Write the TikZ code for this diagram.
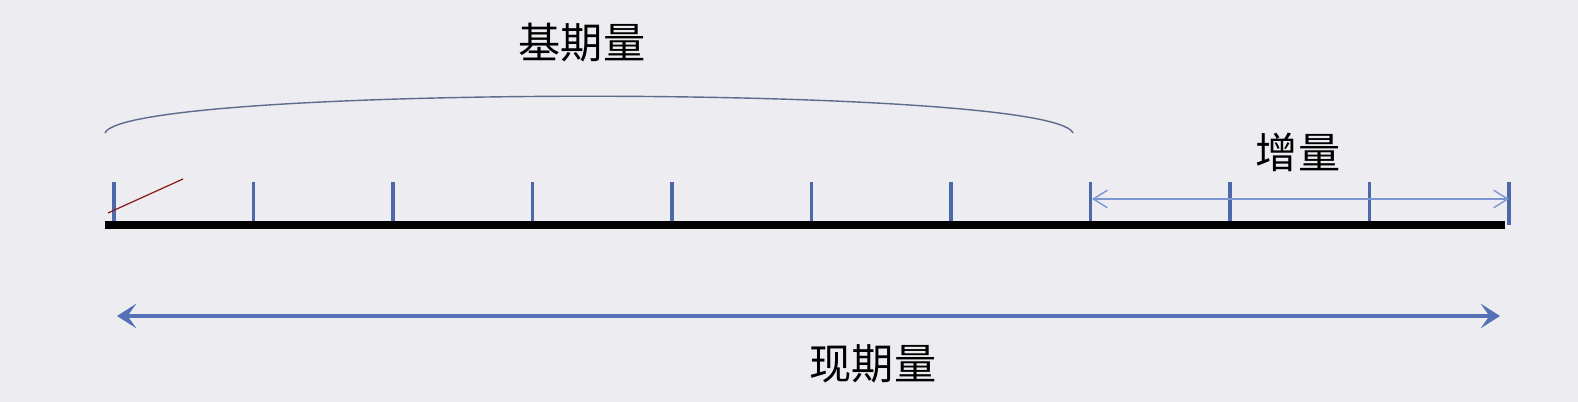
\documentclass[tikz,border=0pt]{standalone}
\usepackage{fontspec}
\newfontfamily\cjk{Noto Sans CJK SC}
\usetikzlibrary{arrows.meta}

\definecolor{bgcol}{HTML}{EDECF0}
\definecolor{tickblue}{HTML}{4D68A8}
\definecolor{arcgray}{HTML}{5E6C8C}
\definecolor{lightblue}{HTML}{7C96D0}
\definecolor{arrowblue}{HTML}{5670B5}
\definecolor{darkred}{HTML}{8A1A1A}

\begin{document}
\begin{tikzpicture}[x=0.1mm, y=-0.1mm,
    tick/.style={draw=tickblue, line width=0.9pt},
    label/.style={font=\cjk\fontsize{12}{14}\selectfont, inner sep=0pt}]

    \fill [bgcol] (0,0) rectangle (1578,402);

    % base line and ticks
    \coordinate (L) at (105,225);
    \coordinate (R) at (1505,225);
    \foreach \i in {0,...,10}
        \coordinate (t\i) at ({114+139.5*\i},225);
    \foreach \i in {0,...,10}
        \draw [tick] (t\i) -- ++(0,-43);
    \draw [line width=2.3pt, line cap=butt] (L) -- (R);

    % red mark
    \coordinate (r1) at (108,213);
    \coordinate (r2) at (183,179);
    \draw [darkred, line width=0.35pt] (r1) -- (r2);

    % base period brace
    \coordinate (a1) at (105,133);
    \coordinate (a2) at (1073,133);
    \draw [arcgray, line width=0.4pt] (a1) .. controls (125,84) and (1053,84) .. (a2);
    \node (base) [label] at (582,43) {基期量};

    % increment
    \coordinate (i1) at (1092,199);
    \coordinate (i2) at (1509,199);
    \draw [lightblue, line width=0.4pt, {Straight Barb[length=4pt, width=5pt]}-{Straight Barb[length=4pt, width=5pt]}] (i1) -- (i2);
    \node (inc) [label] at (1298,152) {增量};

    % current period
    \coordinate (c1) at (117,316);
    \coordinate (c2) at (1500,316);
    \draw [arrowblue, line width=1.1pt, {Stealth[length=5.5pt, width=7pt, inset=2.5pt]}-{Stealth[length=5.5pt, width=7pt, inset=2.5pt]}] (c1) -- (c2);
    \node (cur) [label] at (873,364) {现期量};
\end{tikzpicture}
\end{document}
